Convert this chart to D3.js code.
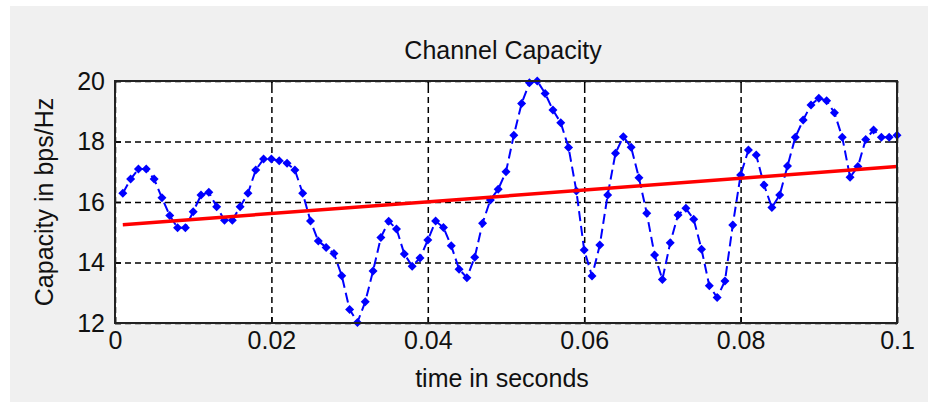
<!DOCTYPE html>
<html>
<head>
<meta charset="utf-8">
<script src="https://cdn.jsdelivr.net/npm/d3@7"></script>
<style>
  body { margin: 0; background: #fff; }
  text { font-family: "Liberation Sans", Arial, sans-serif; fill: #111; }
</style>
</head>
<body>
<div id="chart"></div>
<script>
var w = 928;
var h = 402;

// sample times (s) and channel capacity (bps/Hz)
var times = [0.001,0.002,0.003,0.004,0.005,0.006,0.007,0.008,0.009,0.010,
             0.011,0.012,0.013,0.014,0.015,0.016,0.017,0.018,0.019,0.020,
             0.021,0.022,0.023,0.024,0.025,0.026,0.027,0.028,0.029,0.030,
             0.031,0.032,0.033,0.034,0.035,0.036,0.037,0.038,0.039,0.040,
             0.041,0.042,0.043,0.044,0.045,0.046,0.047,0.048,0.049,0.050,
             0.051,0.052,0.053,0.054,0.055,0.056,0.057,0.058,0.059,0.060,
             0.061,0.062,0.063,0.064,0.065,0.066,0.067,0.068,0.069,0.070,
             0.071,0.072,0.073,0.074,0.075,0.076,0.077,0.078,0.079,0.080,
             0.081,0.082,0.083,0.084,0.085,0.086,0.087,0.088,0.089,0.090,
             0.091,0.092,0.093,0.094,0.095,0.096,0.097,0.098,0.099,0.100];

var capacity = [16.29,16.76,17.09,17.09,16.76,16.14,15.55,15.15,15.15,15.68,
                16.23,16.32,15.84,15.40,15.40,15.84,16.29,17.06,17.42,17.42,
                17.36,17.28,17.06,16.29,15.37,14.71,14.50,14.30,13.56,12.45,
                12.02,12.70,13.72,14.83,15.36,15.11,14.28,13.88,14.15,14.74,
                15.37,15.16,14.55,13.78,13.50,14.17,15.30,16.07,16.42,17.00,
                18.21,19.26,19.94,20.00,19.59,19.04,18.62,17.80,16.36,14.41,
                13.55,14.58,16.23,17.61,18.16,17.81,16.80,15.63,14.25,13.44,
                14.65,15.57,15.79,15.43,14.44,13.23,12.84,13.39,15.24,16.89,
                17.72,17.55,16.56,15.82,16.23,17.19,18.14,18.71,19.21,19.43,
                19.35,18.95,18.14,16.82,17.17,18.07,18.38,18.14,18.14,18.21];

// linear trend line end points
var trendTimes = [0.001, 0.1];
var trendValues = [15.25, 17.17];

var xTicks = [0, 0.02, 0.04, 0.06, 0.08, 0.1];
var xTickLabels = ["0", "0.02", "0.04", "0.06", "0.08", "0.1"];
var yTicks = [12, 14, 16, 18, 20];

var svg = d3.select("#chart").append("svg")
    .attr("width", w)
    .attr("height", h);

// grey figure background
svg.append("rect")
    .attr("x", 10).attr("y", 6)
    .attr("width", w - 10).attr("height", h - 6)
    .attr("fill", "#f0f0f0");

var mLeft = 115, mRight = 897, mTop = 81, mBottom = 323;
var width = mRight - mLeft, height = mBottom - mTop;

var xScale = d3.scaleLinear().domain([0, 0.1]).range([0, width]);
var yScale = d3.scaleLinear().domain([12, 20]).range([height, 0]);

var g = svg.append("g")
    .attr("transform", "translate(" + mLeft + "," + mTop + ")");

g.append("rect")
    .attr("width", width).attr("height", height)
    .attr("fill", "#fff");

// dashed grid
var grid = g.append("g").attr("class", "grid");
grid.append("g")
    .attr("transform", "translate(0," + height + ")")
    .call(d3.axisBottom(xScale).tickValues(xTicks).tickSize(-height).tickFormat(""));
grid.append("g")
    .call(d3.axisLeft(yScale).tickValues(yTicks).tickSize(-width).tickFormat(""));
grid.selectAll(".domain").remove();
grid.selectAll("line")
    .attr("stroke", "#000")
    .attr("stroke-width", 1.5)
    .attr("stroke-dasharray", "6,4");

// axes with inward ticks
var axes = g.append("g").attr("class", "axes");
axes.append("g")
    .attr("transform", "translate(0," + height + ")")
    .call(d3.axisBottom(xScale).tickValues(xTicks).tickSizeInner(-6).tickSizeOuter(0).tickPadding(8)
        .tickFormat(function(d, i) { return xTickLabels[i]; }));
axes.append("g")
    .call(d3.axisLeft(yScale).tickValues(yTicks).tickSizeInner(-6).tickSizeOuter(0).tickPadding(10));
axes.append("g")
    .call(d3.axisTop(xScale).tickValues(xTicks).tickSizeInner(-6).tickSizeOuter(0).tickFormat(""));
axes.append("g")
    .attr("transform", "translate(" + width + ",0)")
    .call(d3.axisRight(yScale).tickValues(yTicks).tickSizeInner(-6).tickSizeOuter(0).tickFormat(""));

axes.selectAll(".domain").remove();
axes.selectAll(".tick line").attr("stroke", "#000").attr("stroke-width", 1.5);
axes.selectAll(".tick text")
    .style("font-family", "'Liberation Sans', Arial, sans-serif")
    .style("font-size", "25px")
    .attr("fill", "#111");

// data line
var line = d3.line()
    .x(function(d, i) { return xScale(times[i]); })
    .y(function(d) { return yScale(d); });

g.append("path")
    .datum(capacity)
    .attr("fill", "none")
    .attr("stroke", "#0000ff")
    .attr("stroke-width", 2)
    .attr("stroke-dasharray", "10,5")
    .attr("d", line);

g.selectAll(".marker")
    .data(capacity)
    .enter().append("path")
    .attr("class", "marker")
    .attr("d", "M0,-4.5L4.5,0L0,4.5L-4.5,0Z")
    .attr("fill", "#0000ff")
    .attr("transform", function(d, i) {
        return "translate(" + xScale(times[i]) + "," + yScale(d) + ")";
    });

// trend line
var trendLine = d3.line()
    .x(function(d, i) { return xScale(trendTimes[i]); })
    .y(function(d) { return yScale(d); });

g.append("path")
    .datum(trendValues)
    .attr("fill", "none")
    .attr("stroke", "#ff0000")
    .attr("stroke-width", 3.5)
    .attr("d", trendLine);

// axes box
g.append("rect")
    .attr("width", width).attr("height", height)
    .attr("fill", "none")
    .attr("stroke", "#222")
    .attr("stroke-width", 2);

// titles
svg.append("text")
    .attr("x", mLeft + width / 2 - 3).attr("y", 59)
    .attr("text-anchor", "middle")
    .style("font-size", "25px")
    .text("Channel Capacity");

svg.append("text")
    .attr("x", mLeft + width / 2 - 4).attr("y", 387)
    .attr("text-anchor", "middle")
    .style("font-size", "25px")
    .text("time in seconds");

svg.append("text")
    .attr("transform", "translate(53," + (mTop + height / 2) + ") rotate(-90)")
    .attr("text-anchor", "middle")
    .style("font-size", "25px")
    .text("Capacity in bps/Hz");
</script>
</body>
</html>
